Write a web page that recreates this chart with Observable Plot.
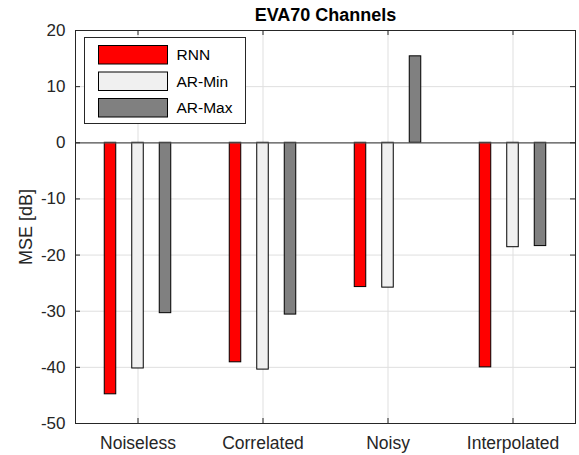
<!DOCTYPE html>
<html>
<head>
<meta charset="utf-8">
<script src="https://cdn.jsdelivr.net/npm/d3@7"></script>
<script src="https://cdn.jsdelivr.net/npm/@observablehq/plot@0.6"></script>
<style>
  html, body { margin: 0; padding: 0; background: #fff; }
  #chart { width: 579px; height: 455px; }
</style>
</head>
<body>
<div id="chart"></div>
<script>
const categories = ["Noiseless", "Correlated", "Noisy", "Interpolated"];
const seriesNames = ["RNN", "AR-Min", "AR-Max"];
const rnn   = [-44.8, -39.1, -25.7, -40.0];
const arMin = [-40.2, -40.4, -25.8, -18.6];
const arMax = [-30.35, -30.6, 15.4, -18.4];
const seriesColors = ["#ff0000", "#f0f0f0", "#808080"];
const yTicks = [-50, -40, -30, -20, -10, 0, 10, 20];
const title = "EVA70 Channels";
const yLabel = "MSE [dB]";

const W = 579, H = 455;
const mL = 75, mR = 4, mT = 30, mB = 32;
const xDom = [0.5, categories.length + 0.5];
const yDom = [-50, 20];
const pxX = (xDom[1] - xDom[0]) / (W - mL - mR);
const pxY = (yDom[1] - yDom[0]) / (H - mT - mB);
const offsets = [-0.22, 0, 0.22];
const barW = 0.092;
const tickLen = 5;

const values = [rnn, arMin, arMax];
const data = [];
categories.forEach((c, i) => {
  seriesNames.forEach((s, j) => {
    data.push({category: c, series: s, pos: i + 1 + offsets[j], value: values[j][i]});
  });
});
const xTicks = categories.map((c, i) => i + 1);

const font = "'Liberation Sans', Arial, Helvetica, sans-serif";

const plot = Plot.plot({
  width: W, height: H,
  marginLeft: mL, marginRight: mR, marginTop: mT, marginBottom: mB,
  style: {fontFamily: font, background: "#fff"},
  x: {type: "linear", domain: xDom},
  y: {domain: yDom},
  color: {domain: seriesNames, range: seriesColors},
  marks: [
    Plot.ruleX(xTicks, {x: d => d, stroke: "#dfdfdf", strokeWidth: 1}),
    Plot.ruleY(yTicks, {y: d => d, stroke: "#dfdfdf", strokeWidth: 1}),
    Plot.rectY(data, {
      x1: d => d.pos - barW / 2, x2: d => d.pos + barW / 2,
      y1: 0, y2: "value", fill: "series", stroke: "#000", strokeWidth: 1
    }),
    Plot.ruleY([0], {stroke: "#555", strokeWidth: 1.2}),
    // inward ticks
    Plot.ruleX(xTicks, {x: d => d, y1: yDom[0], y2: yDom[0] + tickLen * pxY, stroke: "#262626"}),
    Plot.ruleX(xTicks, {x: d => d, y1: yDom[1], y2: yDom[1] - tickLen * pxY, stroke: "#262626"}),
    Plot.ruleY(yTicks, {y: d => d, x1: xDom[0], x2: xDom[0] + tickLen * pxX, stroke: "#262626"}),
    Plot.ruleY(yTicks, {y: d => d, x1: xDom[1], x2: xDom[1] - tickLen * pxX, stroke: "#262626"}),
    Plot.frame({stroke: "#262626", strokeWidth: 1}),
    Plot.axisX({ticks: xTicks, tickFormat: i => categories[i - 1], tickSize: 0, tickPadding: 13,
      fontSize: 17.5, color: "#262626", label: null}),
    Plot.axisY({ticks: yTicks, tickFormat: d => String(d), tickSize: 0, tickPadding: 10,
      fontSize: 17, color: "#262626", label: null}),
    Plot.text([yLabel], {frameAnchor: "left", dx: -49, rotate: -90, text: d => d,
      fontSize: 18, fill: "#262626", textAnchor: "middle", lineAnchor: "middle"}),
    Plot.text([title], {frameAnchor: "top", dy: -15, text: d => d, fontSize: 18,
      fontWeight: "bold", fill: "#000", textAnchor: "middle", lineAnchor: "middle"})
  ]
});

document.getElementById("chart").appendChild(plot);

// Legend (MATLAB-style box in the upper-left of the axes)
const svg = d3.select(plot);
const lg = svg.append("g").attr("transform", "translate(84.5,37.5)");
lg.append("rect").attr("width", 161).attr("height", 86)
  .attr("fill", "#fff").attr("stroke", "#262626").attr("stroke-width", 1);
seriesNames.forEach((s, j) => {
  const yy = 8 + j * 26.5;
  lg.append("rect").attr("x", 14).attr("y", yy).attr("width", 69).attr("height", 18.5)
    .attr("fill", seriesColors[j]).attr("stroke", "#000").attr("stroke-width", 1);
  lg.append("text").attr("x", 92).attr("y", yy + 9.5).attr("dy", "0.35em")
    .attr("text-anchor", "start")
    .attr("font-family", font).attr("font-size", 15.5).attr("fill", "#000").text(s);
});
</script>
</body>
</html>
